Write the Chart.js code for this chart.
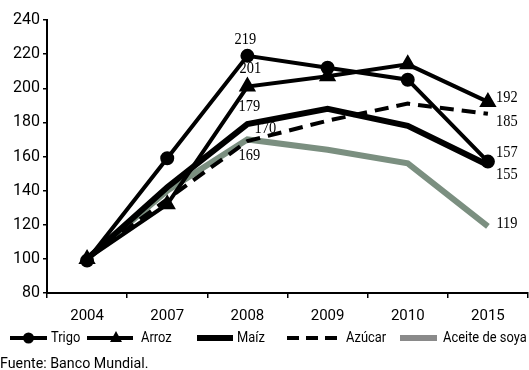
<!DOCTYPE html>
<html><head><meta charset="utf-8">
<script src="https://cdn.jsdelivr.net/npm/chart.js@4"></script>
<style>html,body{margin:0;padding:0;background:#fff}#wrap{width:529px;height:370px;position:relative}</style>
</head><body><div id="wrap"><canvas id="c" width="529" height="370"></canvas></div>
<script>
const categories = ["2004","2007","2008","2009","2010","2015"];
const trigo  = [99, 159, 219, 212, 205, 157];
const arroz  = [100, 132, 201, 207, 214, 192];
const maiz   = [100, 142, 179, 188, 178, 155];
const azucar = [100, 135, 169, 181, 191, 185];
const soya   = [100, 140, 170, 164, 156, 119];
const seriesNames = ["Trigo","Arroz","Maíz","Azúcar","Aceite de soya"];
const yTicks = [80,100,120,140,160,180,200,220,240];
const sourceText = "Fuente: Banco Mundial.";
// labelled points: [series index, category index]
const labelled = [[0,2],[1,2],[2,2],[4,2],[3,2],[1,5],[3,5],[0,5],[2,5],[4,5]];
// label offsets (style)
const labelOffsets = [[-2,-16],[3,-18],[2,-17],[18,-11],[2,15],[19,-4],[19,8],[19,-9],[19,10],[19,-3]];

const SANS = 'Roboto,"DejaVu Sans",sans-serif';
const SERIF = '"Liberation Serif","DejaVu Serif",serif';
const GREY = '#7b8f80';

const allSeries = [trigo, arroz, maiz, azucar, soya];
const styles = [
  {borderColor:'#000', borderWidth:4, pointStyle:'circle', pointRadius:5},
  {borderColor:'#000', borderWidth:4, pointStyle:'triangle', pointRadius:6},
  {borderColor:'#000', borderWidth:6, pointRadius:0},
  {borderColor:'#000', borderWidth:4, borderDash:[14,8], pointRadius:0},
  {borderColor:GREY, borderWidth:6, pointRadius:0}
];
const datasets = allSeries.map((d,i)=>Object.assign({
  label: seriesNames[i], data: d, fill:false, tension:0,
  pointBackgroundColor:'#000', pointBorderColor:'#000', borderCapStyle:'butt', borderJoinStyle:'miter'
}, styles[i]));
datasets[4].order = 5; datasets[3].order = 4; datasets[2].order = 3; datasets[1].order = 2; datasets[0].order = 1;

function condensedText(ctx, text, x, y, sx){
  ctx.save(); ctx.translate(x, y); ctx.scale(sx, 1); ctx.fillText(text, 0, 0); ctx.restore();
}

const labelPlugin = {
  id:'labels',
  afterDatasetsDraw(chart){
    const ctx = chart.ctx;
    ctx.save();
    ctx.font = '16px ' + SERIF;
    ctx.fillStyle = '#000';
    ctx.textAlign = 'center';
    ctx.textBaseline = 'middle';
    labelled.forEach((li,k)=>{
      const [s,c] = li;
      const pt = chart.getDatasetMeta(s).data[c];
      condensedText(ctx, String(allSeries[s][c]), pt.x + labelOffsets[k][0], pt.y + labelOffsets[k][1], 0.9);
    });
    ctx.restore();
  }
};

const legendPlugin = {
  id:'customLegend',
  afterDraw(chart){
    const ctx = chart.ctx;
    const y = 338;
    const items = [
      {x:10, len:37, gap:4},{x:87, len:46, gap:8},{x:197, len:36, gap:4},{x:287, len:50, gap:9},{x:400, len:37, gap:6}
    ];
    ctx.save();
    ctx.font = '15px ' + SANS;
    ctx.textBaseline = 'middle';
    items.forEach((it,i)=>{
      const st = styles[i];
      ctx.strokeStyle = i===4 ? '#8a8a8a' : '#000';
      ctx.lineWidth = (i===2||i===4) ? 6 : 4;
      ctx.setLineDash(i===3 ? [12,7] : []);
      ctx.beginPath(); ctx.moveTo(it.x, y); ctx.lineTo(it.x+it.len, y); ctx.stroke();
      ctx.setLineDash([]);
      ctx.fillStyle = '#000';
      const cx = it.x + it.len/2 + (i===1?6:0);
      if (st.pointStyle==='circle'){ ctx.beginPath(); ctx.arc(cx, y, 5.5, 0, Math.PI*2); ctx.fill(); }
      if (st.pointStyle==='triangle'){ ctx.beginPath(); ctx.moveTo(cx, y-7); ctx.lineTo(cx+6, y+4); ctx.lineTo(cx-6, y+4); ctx.closePath(); ctx.fill(); }
      condensedText(ctx, seriesNames[i], it.x + it.len + it.gap, y, 0.86);
    });
    ctx.font = '15px ' + SANS;
    condensedText(ctx, sourceText, 0, 364, 0.95);
    ctx.restore();
  }
};

new Chart(document.getElementById('c'), {
  type:'line',
  data:{labels:categories, datasets},
  options:{
    responsive:false, animation:false,
    layout:{autoPadding:false, padding:{top:20, right:1, bottom:36, left:10}},
    plugins:{legend:{display:false}, tooltip:{enabled:false}},
    scales:{
      x:{
        offset:true,
        grid:{display:true, offset:true, drawOnChartArea:false, drawTicks:true, tickLength:5, color:'#000', lineWidth:1.5},
        border:{display:true, color:'#000', width:2},
        ticks:{color:'#000', font:{family:SANS, size:15}, padding:9, maxRotation:0}
      },
      y:{
        min:80, max:240,
        afterBuildTicks(axis){ axis.ticks = yTicks.map(v=>({value:v})); },
        grid:{display:true, drawOnChartArea:false, drawTicks:true, tickLength:4, color:'#000', lineWidth:1.5},
        border:{display:true, color:'#000', width:2},
        ticks:{color:'#000', font:{family:SANS, size:16}, padding:3}
      }
    }
  },
  plugins:[labelPlugin, legendPlugin]
});
</script></body></html>
